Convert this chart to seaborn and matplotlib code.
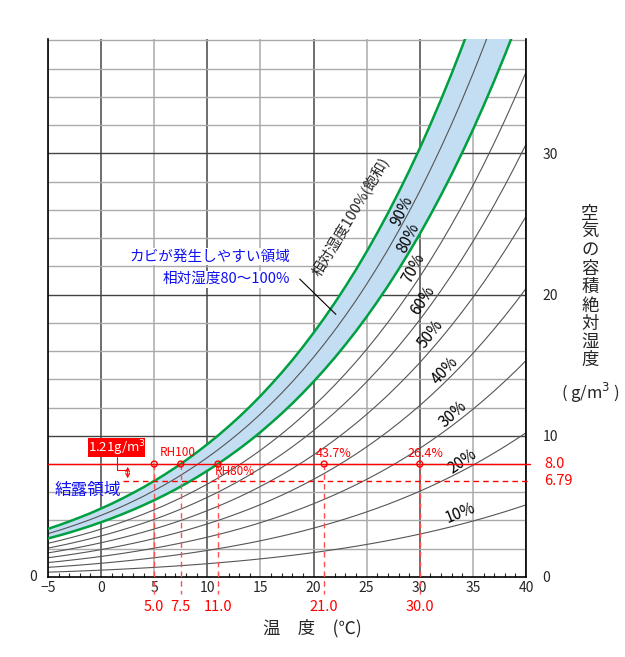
import pandas as pd
import numpy as np
import matplotlib
matplotlib.use('Agg')
import matplotlib.pyplot as plt
from matplotlib.patches import Rectangle
import seaborn as sns

# saturated absolute humidity (g/m3) per degree C
temps = list(range(-5, 41))
sat_ah = [3.41, 3.66, 3.93, 4.22, 4.52, 4.85, 5.19, 5.56, 5.95, 6.36,
          6.80, 7.26, 7.75, 8.27, 8.82, 9.40, 10.01, 10.66, 11.34, 12.06,
          12.82, 13.63, 14.47, 15.36, 16.30, 17.29, 18.33, 19.42, 20.57, 21.77,
          23.04, 24.37, 25.76, 27.23, 28.76, 30.36, 32.05, 33.81, 35.65, 37.58,
          39.59, 41.70, 43.90, 46.19, 48.58, 51.07]
rh_levels = [10, 20, 30, 40, 50, 60, 70, 80, 90, 100]

# curve labels: text, x, y, angle
rh_labels = ["10%", "20%", "30%", "40%", "50%", "60%", "70%", "80%", "90%"]
rh_label_x = [33.8, 34.0, 33.1, 32.4, 31.0, 30.3, 29.4, 28.9, 28.3]
rh_label_y = [4.5, 8.2, 11.5, 14.6, 17.2, 19.6, 21.9, 24.0, 25.9]
rh_label_rot = [22, 35, 42, 47, 52, 57, 62, 63, 64]

# red example reading
abs_now = 8.0
abs_dew = 6.79
mark_x = [5.0, 7.5, 11.0, 21.0, 30.0]
mark_text = ["5.0", "7.5", "11.0", "21.0", "30.0"]
point_labels = ["RH100", "RH80%", "43.7%", "26.4%"]
point_label_x = [7.2, 10.7, 21.9, 30.5]

rows = []
for rh in rh_levels:
    for t, s in zip(temps, sat_ah):
        rows.append({"temp": t, "ah": s * rh / 100.0, "rh": rh})
df = pd.DataFrame(rows)

sns.set_style("white")
plt.rcParams['font.family'] = ['Noto Sans CJK JP', 'DejaVu Sans']

fig = plt.figure(figsize=(6.25, 6.57), dpi=100)
ax = fig.add_axes([0.0768, 0.1218, 0.7648, 0.8188])

# grid
for gx in range(-5, 41, 5):
    dark = gx % 10 == 0
    ax.axvline(gx, color='#555555' if dark else '#aaaaaa', lw=1.2 if dark else 1.1, zorder=0)
for gy in range(2, 39, 2):
    dark = gy % 10 == 0
    ax.axhline(gy, color='#444444' if dark else '#aaaaaa', lw=1.0, zorder=0)

# mould band between 80% and 100%
sat = np.array(sat_ah)
ax.fill_between(temps, sat * 0.8, sat, color='#c3def2', zorder=1)

gray = df[~df.rh.isin([80, 100])]
sns.lineplot(data=gray, x="temp", y="ah", units="rh", estimator=None,
             color='#555555', lw=0.8, ax=ax, zorder=2)
green = df[df.rh.isin([80, 100])]
sns.lineplot(data=green, x="temp", y="ah", units="rh", estimator=None,
             color='#00a040', lw=1.8, ax=ax, zorder=3)

for txt, x, y, r in zip(rh_labels, rh_label_x, rh_label_y, rh_label_rot):
    ax.text(x, y, txt, rotation=r, rotation_mode='anchor', ha='center', va='center',
            fontsize=11, color='black', zorder=4)
ax.text(23.5, 25.5, "相対湿度100%(飽和)", rotation=59, rotation_mode='anchor',
        ha='center', va='center', fontsize=10.5, zorder=4)

# blue notes
ax.text(17.8, 22.7, "カビが発生しやすい領域", color='#1010f0', fontsize=10.5,
        ha='right', va='center', zorder=4,
        bbox=dict(facecolor='white', edgecolor='none', pad=1))
ax.text(17.8, 21.1, "相対湿度80～100%", color='#1010f0', fontsize=10.5,
        ha='right', va='center', zorder=4,
        bbox=dict(facecolor='white', edgecolor='none', pad=1))
ax.plot([18.7, 22.1], [21.1, 18.6], color='black', lw=0.8, zorder=4)
ax.text(-4.4, 6.1, "結露領域", color='#1010f0', fontsize=12, ha='left', va='center', zorder=4)

# red example
red = '#ff0000'
ax.plot([-5, 40.4], [abs_now, abs_now], color=red, lw=1.0, clip_on=False, zorder=5)
ax.plot([2.1, 40.4], [abs_dew, abs_dew], color=red, lw=1.0, ls=(0, (4, 3)),
        clip_on=False, zorder=5)
for mx, mt in zip(mark_x, mark_text):
    ax.plot([mx, mx], [abs_now, -1.2], color='#ff5050', lw=1.0, ls=(0, (4, 3)),
            clip_on=False, zorder=5)
    ax.text(mx, -2.1, mt, color=red, fontsize=10.5, ha='center', va='center')
sns.scatterplot(x=mark_x, y=[abs_now] * len(mark_x), ax=ax, s=18, marker='o',
                facecolor='none', edgecolor=red, linewidth=1.0, zorder=6)
ax.text(point_label_x[0], abs_now + 0.35, point_labels[0], color=red, fontsize=8.5,
        ha='center', va='bottom')
ax.text(point_label_x[1], abs_now - 0.1, point_labels[1], color=red, fontsize=8.5,
        ha='left', va='top')
for lx, lt in zip(point_label_x[2:], point_labels[2:]):
    ax.text(lx, abs_now + 0.3, lt, color=red, fontsize=9, ha='center', va='bottom')

ax.text(41.7, abs_now, "8.0", color=red, fontsize=10.5, ha='left', va='center')
ax.text(41.7, abs_dew, "6.79", color=red, fontsize=10.5, ha='left', va='center')

ax.add_patch(Rectangle((-1.2, 8.5), 5.3, 1.35, facecolor=red, edgecolor='none', zorder=7))
ax.text(1.45, 9.15, "1.21g/m$^3$", color='white', fontsize=9.5, ha='center', va='center',
        zorder=8)
ax.plot([1.45, 1.45, 2.5], [8.5, 7.55, 7.55], color=red, lw=0.8, zorder=6)
ax.annotate("", xy=(2.5, abs_now), xytext=(2.5, abs_dew),
            arrowprops=dict(arrowstyle='<->', color=red, lw=0.8, mutation_scale=7), zorder=6)

# axes
ax.set_xlim(-5, 40)
ax.set_ylim(0, 38.1)
ax.set_xticks(range(-5, 41, 5))
ax.set_xticklabels(["−5"] + [str(v) for v in range(0, 41, 5)], fontsize=10)
ax.set_xticks(range(-5, 41), minor=True)
ax.tick_params(axis='x', which='major', direction='in', length=5, width=0.8, pad=3)
ax.tick_params(axis='x', which='minor', direction='in', length=3, width=0.8, bottom=True)
ax.yaxis.tick_right()
ax.set_yticks([0, 10, 20, 30])
ax.set_yticklabels(["0", "10", "20", "30"], fontsize=10)
ax.tick_params(axis='y', which='major', length=0, pad=12)
ax.text(-6.0, 0, "0", fontsize=10, ha='right', va='center')
for side in ['left', 'right', 'bottom']:
    ax.spines[side].set_color('black')
    ax.spines[side].set_linewidth(1.2)
ax.spines['top'].set_visible(False)
ax.set_xlabel("")
ax.set_ylabel("")

fig.text(0.5, 0.044, "温　度　(℃)", fontsize=12.5, ha='center', va='center')
ylab = "\n".join("空気の容積絶対湿度")
fig.text(0.944, 0.563, ylab, fontsize=12.5, ha='center', va='center', linespacing=1.02)
fig.text(0.944, 0.402, "( g/m$^3$ )", fontsize=12, ha='center', va='center')

fig.savefig("out.png", dpi=100)
